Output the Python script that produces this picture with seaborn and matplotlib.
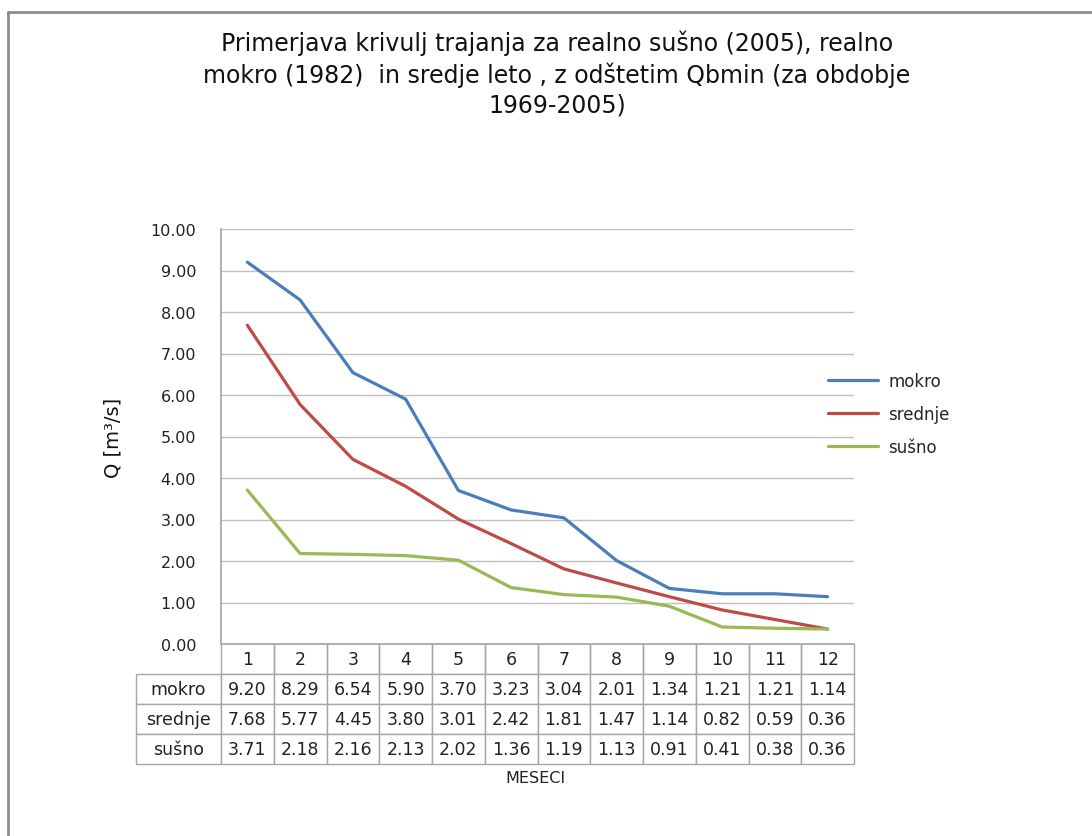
import pandas as pd
import seaborn as sns
import matplotlib.pyplot as plt
from matplotlib.lines import Line2D

months = [1, 2, 3, 4, 5, 6, 7, 8, 9, 10, 11, 12]
mokro = [9.20, 8.29, 6.54, 5.90, 3.70, 3.23, 3.04, 2.01, 1.34, 1.21, 1.21, 1.14]
srednje = [7.68, 5.77, 4.45, 3.80, 3.01, 2.42, 1.81, 1.47, 1.14, 0.82, 0.59, 0.36]
susno = [3.71, 2.18, 2.16, 2.13, 2.02, 1.36, 1.19, 1.13, 0.91, 0.41, 0.38, 0.36]
series_names = ['mokro', 'srednje', 'sušno']
colors = ['#4a7ebb', '#be4b48', '#98b954']

df = pd.DataFrame({'mesec': months * 3,
                   'Q': mokro + srednje + susno,
                   'serija': [n for n in series_names for _ in months]})

sns.set_theme(style='white')
plt.rcParams['font.family'] = ['DejaVu Sans']

fig = plt.figure(figsize=(10.92, 8.37), dpi=100)
ax = fig.add_axes([221 / 1092, 1 - 645 / 837, 633 / 1092, 415 / 837])

sns.lineplot(data=df, x='mesec', y='Q', hue='serija', palette=colors,
             linewidth=2.3, ax=ax, legend=False)

ax.set_xlim(0.5, 12.5)
ax.set_ylim(0, 10)
ax.set_yticks(range(0, 11))
ax.set_yticklabels([f'{v:.2f}' for v in range(0, 11)], fontsize=11.5, color='#222222')
ax.set_xticks([])
ax.set_xlabel('')
ax.set_ylabel('Q [m³/s]', fontsize=14, labelpad=20, color='#111111')
ax.yaxis.grid(True, color='#bfbfbf', linewidth=1)
ax.tick_params(axis='y', length=0, pad=18)
for s in ['top', 'right']:
    ax.spines[s].set_visible(False)
ax.spines['left'].set_color('#a6a6a6')
ax.spines['bottom'].set_color('#a6a6a6')

# data table under the plot
label_w = 85 / 633
col_w = 1.0 / 12
cell_text = [[n] + [f'{v:.2f}' for v in vals]
             for n, vals in zip(series_names, [mokro, srednje, susno])]
col_labels = [''] + [str(m) for m in months]
tbl = ax.table(cellText=cell_text, colLabels=col_labels,
               colWidths=[label_w] + [col_w] * 12, cellLoc='center',
               bbox=[-label_w, -120 / 415, 1 + label_w, 120 / 415])
tbl.auto_set_font_size(False)
tbl.set_fontsize(12.5)
for (r, c), cell in tbl.get_celld().items():
    cell.set_edgecolor('#a6a6a6')
    cell.set_linewidth(1)
    cell.get_text().set_color('#222222')
    if r == 0 and c == 0:
        cell.visible_edges = ''
    elif r == 0:
        cell.visible_edges = 'LRB'

fig.text(535 / 1092, 1 - 779 / 837, 'MESECI', ha='center', va='center',
         fontsize=11.5, color='#222222')

handles = [Line2D([], [], color=c, linewidth=2.3) for c in colors]
fig.legend(handles, series_names, loc='center left',
           bbox_to_anchor=(813 / 1092, 1 - 415 / 837), frameon=False,
           fontsize=12, handlelength=3.0, labelspacing=0.9, handletextpad=0.6)

fig.text(557 / 1092, 1 - 74 / 837,
         'Primerjava krivulj trajanja za realno sušno (2005), realno\n'
         'mokro (1982)  in sredje leto , z odštetim Qbmin (za obdobje\n'
         '1969-2005)', ha='center', va='center', fontsize=17,
         linespacing=1.3, color='#111111')

# outer chart frame (left and top edges visible)
fig.add_artist(Line2D([8 / 1092, 8 / 1092], [0, 1 - 13 / 837], transform=fig.transFigure,
                      color='#8c8c8c', linewidth=2))
fig.add_artist(Line2D([8 / 1092, 1], [1 - 13 / 837, 1 - 13 / 837], transform=fig.transFigure,
                      color='#8c8c8c', linewidth=2))

fig.savefig('out.png', dpi=100, facecolor='white')
